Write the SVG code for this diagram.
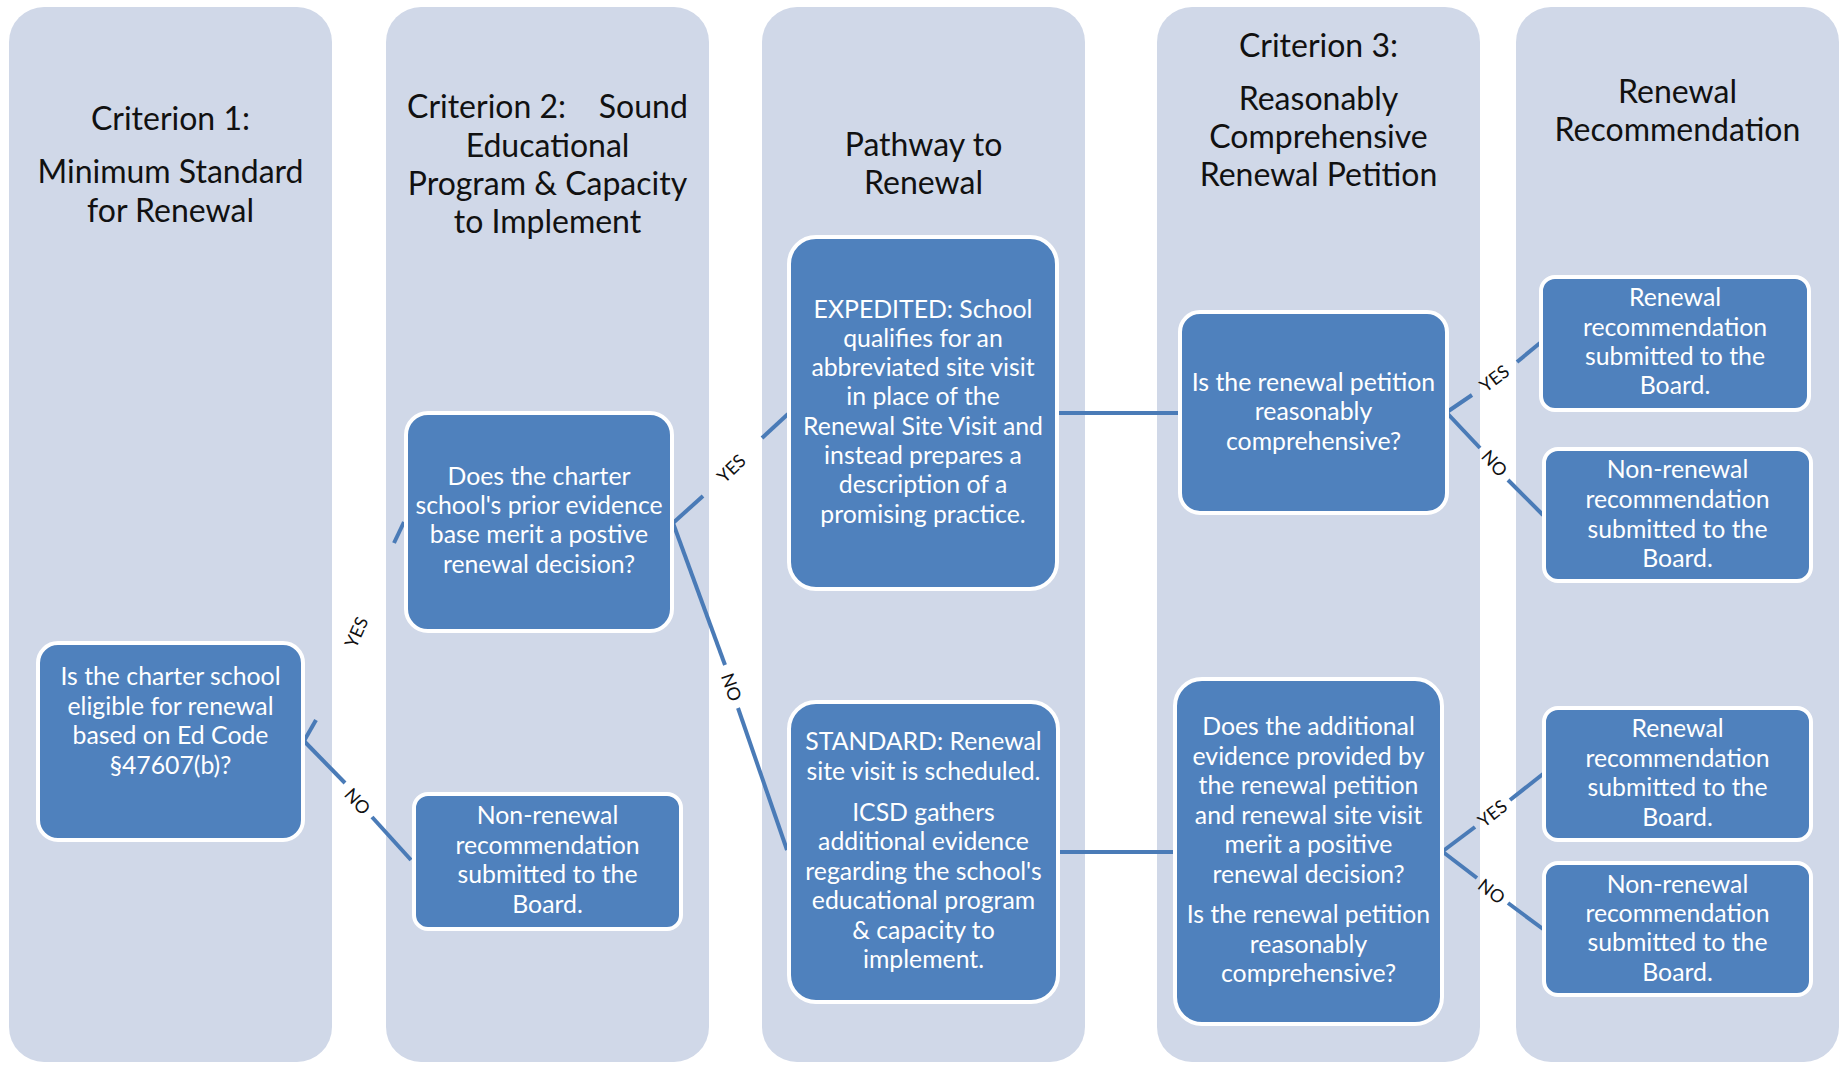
<svg xmlns="http://www.w3.org/2000/svg" width="1845" height="1065" viewBox="0 0 1845 1065">
  <style>
    .lane { fill: #D0D8E8; }
    .head { font-family: Lato, "Liberation Sans", sans-serif; font-size: 32px; fill: #111; text-anchor: middle; }
    .node rect { fill: #4F81BD; stroke: #FFFFFF; stroke-width: 4; }
    .node text { font-family: Lato, "Liberation Sans", sans-serif; font-size: 24.8px; fill: #FFFFFF; text-anchor: middle; }
    .conn line { stroke: #4A7BB7; stroke-width: 4; stroke-linecap: butt; }
    .lbl { font-family: Lato, "Liberation Sans", sans-serif; font-size: 18px; fill: #111; text-anchor: middle; dominant-baseline: central; }
  </style>

  <rect width="1845" height="1065" fill="#FFFFFF"/>

  <!-- swim lanes -->
  <g id="lanes">
    <rect class="lane" x="9" y="7" width="323" height="1055" rx="35"/>
    <rect class="lane" x="386" y="7" width="323" height="1055" rx="35"/>
    <rect class="lane" x="762" y="7" width="323" height="1055" rx="35"/>
    <rect class="lane" x="1157" y="7" width="323" height="1055" rx="35"/>
    <rect class="lane" x="1516" y="7" width="323" height="1055" rx="35"/>
  </g>

  <!-- lane headings -->
  <g id="headings">
    <text class="head" x="170.5" y="130">Criterion 1:</text>
    <text class="head" x="170.5" y="183">Minimum Standard</text>
    <text class="head" x="170.5" y="222">for Renewal</text>

    <text class="head" x="547.5" y="118" xml:space="preserve">Criterion 2:    Sound</text>
    <text class="head" x="547.5" y="157">Educational</text>
    <text class="head" x="547.5" y="195">Program &amp; Capacity</text>
    <text class="head" x="547.5" y="233">to Implement</text>

    <text class="head" x="923.5" y="156">Pathway to</text>
    <text class="head" x="923.5" y="194">Renewal</text>

    <text class="head" x="1318.5" y="57">Criterion 3:</text>
    <text class="head" x="1318.5" y="110">Reasonably</text>
    <text class="head" x="1318.5" y="148">Comprehensive</text>
    <text class="head" x="1318.5" y="186">Renewal Petition</text>

    <text class="head" x="1677.5" y="103">Renewal</text>
    <text class="head" x="1677.5" y="141">Recommendation</text>
  </g>

  <!-- connectors (split around their YES / NO labels) -->
  <g id="connectors" class="conn">
    <line x1="304" y1="741" x2="316" y2="720"/>
    <line x1="394" y1="543" x2="404" y2="522"/>
    <text class="lbl" transform="translate(356 632) rotate(-65.5)">YES</text>

    <line x1="304" y1="741" x2="345" y2="783"/>
    <line x1="372" y1="817" x2="411" y2="860"/>
    <text class="lbl" transform="translate(358 801) rotate(47.9)">NO</text>

    <line x1="673" y1="523" x2="703" y2="496"/>
    <line x1="762" y1="438" x2="788" y2="414"/>
    <text class="lbl" transform="translate(731 468) rotate(-44)">YES</text>

    <line x1="673" y1="523" x2="725" y2="665"/>
    <line x1="738" y1="708" x2="787" y2="850"/>
    <text class="lbl" transform="translate(732 687) rotate(71)">NO</text>

    <line x1="1059" y1="413" x2="1179" y2="413"/>
    <line x1="1059" y1="852" x2="1174" y2="852"/>

    <line x1="1447" y1="412" x2="1472" y2="395"/>
    <line x1="1517" y1="362" x2="1540" y2="343"/>
    <text class="lbl" transform="translate(1494 378) rotate(-37)">YES</text>

    <line x1="1447" y1="413" x2="1480" y2="448"/>
    <line x1="1508" y1="480" x2="1543" y2="515"/>
    <text class="lbl" transform="translate(1495 463) rotate(47.6)">NO</text>

    <line x1="1443" y1="851" x2="1475" y2="827"/>
    <line x1="1510" y1="800" x2="1543" y2="774"/>
    <text class="lbl" transform="translate(1492 813) rotate(-38)">YES</text>

    <line x1="1443" y1="852" x2="1477" y2="878"/>
    <line x1="1508" y1="903" x2="1543" y2="929"/>
    <text class="lbl" transform="translate(1492 891) rotate(38)">NO</text>
  </g>

  <!-- decision and outcome boxes -->
  <g id="n-eligible" class="node">
    <rect x="38" y="643" width="265" height="197" rx="20"/>
    <text x="170.5" y="685">Is the charter school</text>
    <text x="170.5" y="714.5">eligible for renewal</text>
    <text x="170.5" y="744">based on Ed Code</text>
    <text x="170.5" y="773.5">§47607(b)?</text>
  </g>

  <g id="n-prior-evidence" class="node">
    <rect x="406" y="413" width="266" height="218" rx="22"/>
    <text x="539" y="485">Does the charter</text>
    <text x="539" y="514">school's prior evidence</text>
    <text x="539" y="543">base merit a postive</text>
    <text x="539" y="572.5">renewal decision?</text>
  </g>

  <g id="n-nonrenewal-1" class="node">
    <rect x="414" y="794" width="267" height="135" rx="14"/>
    <text x="547.5" y="824">Non-renewal</text>
    <text x="547.5" y="853.5">recommendation</text>
    <text x="547.5" y="883">submitted to the</text>
    <text x="547.5" y="912.5">Board.</text>
  </g>

  <g id="n-expedited" class="node">
    <rect x="789" y="237" width="268" height="352" rx="27"/>
    <text x="923" y="317.5">EXPEDITED: School</text>
    <text x="923" y="346.8">qualifies for an</text>
    <text x="923" y="376.1">abbreviated site visit</text>
    <text x="923" y="405.4">in place of the</text>
    <text x="923" y="434.7">Renewal Site Visit and</text>
    <text x="923" y="464">instead prepares a</text>
    <text x="923" y="493.3">description of a</text>
    <text x="923" y="522.6">promising practice.</text>
  </g>

  <g id="n-standard" class="node">
    <rect x="789" y="702" width="269" height="300" rx="27"/>
    <text x="923.5" y="750">STANDARD: Renewal</text>
    <text x="923.5" y="779.5">site visit is scheduled.</text>
    <text x="923.5" y="820.5">ICSD gathers</text>
    <text x="923.5" y="850">additional evidence</text>
    <text x="923.5" y="879.5">regarding the school's</text>
    <text x="923.5" y="909">educational program</text>
    <text x="923.5" y="938.5">&amp; capacity to</text>
    <text x="923.5" y="968">implement.</text>
  </g>

  <g id="n-petition" class="node">
    <rect x="1180" y="312" width="267" height="201" rx="20"/>
    <text x="1313.5" y="391">Is the renewal petition</text>
    <text x="1313.5" y="420">reasonably</text>
    <text x="1313.5" y="449.5">comprehensive?</text>
  </g>

  <g id="n-additional-evidence" class="node">
    <rect x="1175" y="679" width="267" height="345" rx="27"/>
    <text x="1308.5" y="735">Does the additional</text>
    <text x="1308.5" y="764.5">evidence provided by</text>
    <text x="1308.5" y="794">the renewal petition</text>
    <text x="1308.5" y="823.5">and renewal site visit</text>
    <text x="1308.5" y="853">merit a positive</text>
    <text x="1308.5" y="882.5">renewal decision?</text>
    <text x="1308.5" y="923">Is the renewal petition</text>
    <text x="1308.5" y="952.5">reasonably</text>
    <text x="1308.5" y="982">comprehensive?</text>
  </g>

  <g id="n-renewal-1" class="node">
    <rect x="1541" y="277" width="268" height="133" rx="14"/>
    <text x="1675" y="306">Renewal</text>
    <text x="1675" y="335.5">recommendation</text>
    <text x="1675" y="364.5">submitted to the</text>
    <text x="1675" y="394">Board.</text>
  </g>

  <g id="n-nonrenewal-2" class="node">
    <rect x="1544" y="449" width="267" height="132" rx="14"/>
    <text x="1677.5" y="478">Non-renewal</text>
    <text x="1677.5" y="508">recommendation</text>
    <text x="1677.5" y="537.5">submitted to the</text>
    <text x="1677.5" y="567">Board.</text>
  </g>

  <g id="n-renewal-2" class="node">
    <rect x="1544" y="708" width="267" height="132" rx="14"/>
    <text x="1677.5" y="737">Renewal</text>
    <text x="1677.5" y="766.5">recommendation</text>
    <text x="1677.5" y="796">submitted to the</text>
    <text x="1677.5" y="825.5">Board.</text>
  </g>

  <g id="n-nonrenewal-3" class="node">
    <rect x="1544" y="863" width="267" height="132" rx="14"/>
    <text x="1677.5" y="892.5">Non-renewal</text>
    <text x="1677.5" y="922">recommendation</text>
    <text x="1677.5" y="951">submitted to the</text>
    <text x="1677.5" y="980.5">Board.</text>
  </g>
</svg>
